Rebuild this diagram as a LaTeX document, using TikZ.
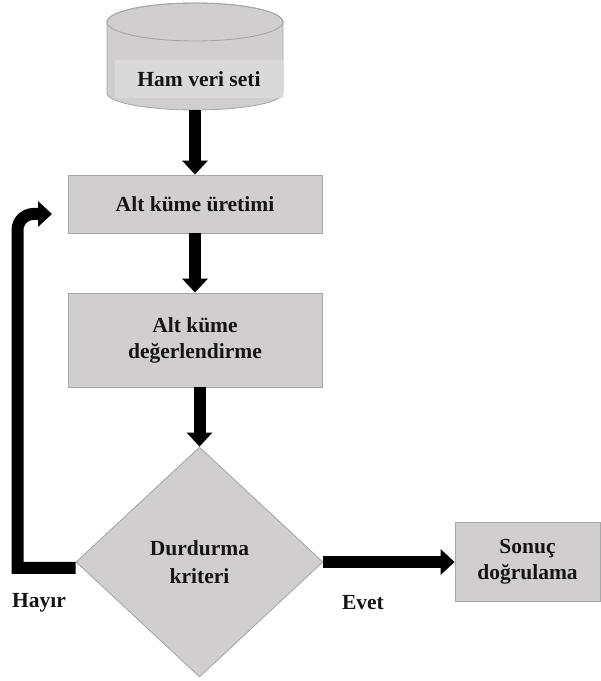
\documentclass[tikz,border=0pt]{standalone}
\usepackage{fontspec}
\setmainfont{Liberation Serif}
\usetikzlibrary{shapes.geometric, arrows.meta}
\definecolor{boxgray}{HTML}{D0CECE}
\definecolor{bandgray}{HTML}{D9D9D9}
\definecolor{edgegray}{HTML}{A6A6A6}
\definecolor{inkdark}{HTML}{141414}

\tikzset{
  stagebox/.style={rectangle, fill=boxgray, draw=edgegray, line width=0.6pt, align=center, text=inkdark, font=\fontsize{15.3}{18.5}\selectfont\bfseries},
  decision/.style={diamond, fill=boxgray, draw=edgegray, line width=0.6pt, inner sep=0pt, align=center, text=inkdark, font=\fontsize{15.3}{19.5}\selectfont\bfseries},
  flowarrow/.style={black, line width=0.3cm, -{Triangle[width=0.625cm, length=0.35cm]}},
  answer/.style={text=inkdark, font=\fontsize{15.3}{18.5}\selectfont\bfseries}
}

\begin{document}
\begin{tikzpicture}
  \useasboundingbox (0,0) rectangle (15,17.025);

  % Raw data set (cylinder)
  \filldraw[fill=boxgray, draw=edgegray, line width=0.6pt] (2.675,16.475) -- (2.675,14.7) arc[start angle=180, end angle=360, x radius=2.2cm, y radius=0.425cm] -- (7.075,16.475) arc[start angle=0, end angle=180, x radius=2.2cm, y radius=0.475cm] -- cycle;
  \draw[edgegray, line width=0.6pt] (4.875,16.475) ellipse[x radius=2.2cm, y radius=0.475cm];
  \node[fill=bandgray, minimum width=4.2cm, minimum height=0.95cm, inner sep=0pt, text=inkdark, font=\fontsize{15.3}{18.5}\selectfont\bfseries] (raw) at (4.975,15.05) {Ham veri seti};
  \coordinate (rawbot) at (4.875,14.275);

  % Stages
  \node[stagebox, minimum width=6.35cm, minimum height=1.45cm] (gen) at (4.875,11.925) {Alt küme üretimi};
  \node[stagebox, minimum width=6.35cm, minimum height=2.35cm] (eval) at (4.875,8.525) {Alt küme\\değerlendirme};
  \node[decision, minimum width=6.175cm, minimum height=5.75cm] (stop) at (4.9875,2.975) {Durdurma\\kriteri};
  \node[stagebox, minimum width=3.625cm, minimum height=1.975cm] (valid) at (13.1875,2.975) {Sonuç\\doğrulama};

  % Branch labels
  \node[answer] (no) at (0.975,1.95) {Hayır};
  \node[answer] (yes) at (9.075,1.95) {Evet};

  % Main flow
  \draw[flowarrow] (rawbot) -- (gen.north);
  \draw[flowarrow] (gen.south) -- (eval.north);
  \draw[flowarrow] (stop.north |- eval.south) -- (stop.north);
  \draw[flowarrow] (stop.east) -- (valid.west);

  % Loop back when the criterion is not met
  \coordinate (loopend) at (1.3,11.675);
  \draw[flowarrow] ([yshift=-0.15cm]stop.west) -- (0.4375,2.825) [rounded corners=0.4cm] -- (0.4375,11.675) -- (loopend);
\end{tikzpicture}
\end{document}
